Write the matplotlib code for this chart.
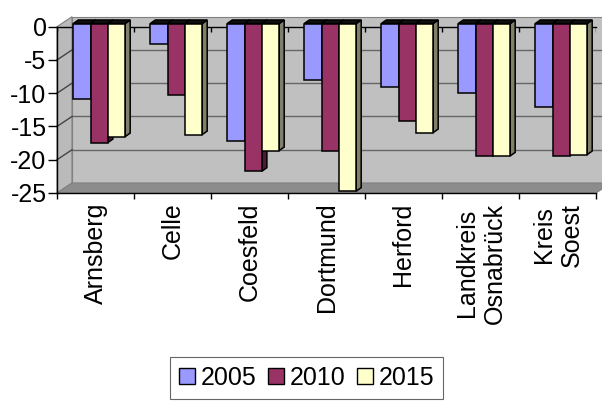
import matplotlib
matplotlib.use("Agg")
import matplotlib.pyplot as plt
from matplotlib.patches import Polygon, Patch

plt.rcParams["font.family"] = ["Liberation Sans", "DejaVu Sans"]
plt.rcParams["axes.unicode_minus"] = False

categories = ["Arnsberg", "Celle", "Coesfeld", "Dortmund", "Herford",
              "Landkreis\nOsnabrück", "Kreis\nSoest"]
years = ["2005", "2010", "2015"]
v2005 = [-11.3, -3.1, -17.6, -8.5, -9.5, -10.4, -12.5]
v2010 = [-17.9, -10.7, -22.2, -19.1, -14.6, -19.9, -19.9]
v2015 = [-17.0, -16.7, -19.1, -25.2, -16.4, -19.9, -19.7]
y_ticks = [0, -5, -10, -15, -20, -25]

face_colors = ["#9999ff", "#993366", "#ffffcc"]
side_colors = ["#4d4d80", "#4d1a33", "#80806a"]

W, H = 602, 401
fig = plt.figure(figsize=(W / 100, H / 100), dpi=100)

# front plane of the pseudo-3D box, in pixels
left_px, right_px, top_px, bot_px = 57, 596, 26.7, 193
ax = fig.add_axes([left_px / W, 1 - bot_px / H,
                   (right_px - left_px) / W, (bot_px - top_px) / H])
n = len(categories)
ax.set_xlim(0, n)
ax.set_ylim(-25, 0)
ax.set_facecolor("none")

# pixel -> data conversions
px_x = n / (right_px - left_px)
px_y = 25 / (bot_px - top_px)

# wall depth
wdx, wdy = 15 * px_x, 10 * px_y
# bar depth and bar placement
bdx, bdy = 5 * px_x, 3.5 * px_y
lift = 3.2 * px_y
grp_left = 16.3 * px_x
bw = 17.3 * px_x

wall_edge = "#808080"
back = Polygon([(wdx, -25 + wdy), (n + wdx, -25 + wdy), (n + wdx, wdy), (wdx, wdy)],
               closed=True, facecolor="#c0c0c0", edgecolor=wall_edge, lw=0.8,
               clip_on=False, zorder=0.5)
side = Polygon([(0, -25), (wdx, -25 + wdy), (wdx, wdy), (0, 0)],
               closed=True, facecolor="#bababa", edgecolor=wall_edge, lw=0.8,
               clip_on=False, zorder=0.6)
floor = Polygon([(0, -25), (n, -25), (n + wdx, -25 + wdy), (wdx, -25 + wdy)],
                closed=True, facecolor="#8c8c8c", edgecolor=wall_edge, lw=0.8,
                clip_on=False, zorder=0.6)
for p in (back, side, floor):
    ax.add_patch(p)

# gridlines on the back and left walls
for t in y_ticks[1:-1]:
    ax.plot([wdx, n + wdx], [t + wdy, t + wdy], color="#666666", lw=1.0,
            clip_on=False, zorder=0.8)
    ax.plot([0, wdx], [t, t + wdy], color="#444444", lw=1.0,
            clip_on=False, zorder=0.8)

# short marks hanging from the zero line at the category boundaries
ax.vlines(range(n + 1), 0, -5.5 * px_y, color="black", lw=1.0, zorder=2.5)

# bars: front face, right side face, top face
series = [v2005, v2010, v2015]
for s, vals in enumerate(series):
    xs = [i + grp_left + s * bw for i in range(n)]
    for x0, v in zip(xs, vals):
        x1 = x0 + bw
        ax.add_patch(Polygon([(x1, lift), (x1 + bdx, lift + bdy),
                              (x1 + bdx, v + lift + bdy), (x1, v + lift)],
                             closed=True, facecolor=side_colors[s],
                             edgecolor="black", lw=1.1, clip_on=False,
                             zorder=3 + 2 * s))
        ax.add_patch(Polygon([(x0, lift), (x1, lift), (x1 + bdx, lift + bdy),
                              (x0 + bdx, lift + bdy)],
                             closed=True, facecolor="#111111",
                             edgecolor="black", lw=1.1, clip_on=False,
                             zorder=3 + 2 * s))
    ax.bar(xs, vals, width=bw, bottom=lift, align="edge",
           color=face_colors[s], edgecolor="black", linewidth=1.1,
           clip_on=False, zorder=4 + 2 * s)

ax.spines["right"].set_visible(False)
for sp in ("left", "bottom", "top"):
    ax.spines[sp].set_color("black")
    ax.spines[sp].set_linewidth(1.0)
    ax.spines[sp].set_zorder(2.5)

ax.set_yticks(y_ticks)
ax.set_yticklabels([str(t) for t in y_ticks])
ax.tick_params(axis="y", direction="out", length=6.5, width=1, pad=1,
               labelsize=18, colors="black")

ax.set_xticks([i + 0.5 for i in range(n)])
ax.set_xticklabels(categories, rotation=90, va="top", ha="center",
                   multialignment="center")
ax.set_xticks(range(n + 1), minor=True)
ax.tick_params(axis="x", which="major", length=0, pad=7, labelsize=18)
ax.tick_params(axis="x", which="minor", direction="out", length=4, width=1,
               top=False, bottom=True)

handles = [Patch(facecolor=c, edgecolor="black", linewidth=1.0) for c in face_colors]
leg = fig.legend(handles, years, loc="center", ncol=3,
                 bbox_to_anchor=(306.7 / W, 1 - 378 / H),
                 fontsize=18, handlelength=0.64, handleheight=0.64,
                 handletextpad=0.24, columnspacing=0.44, borderpad=0.35,
                 borderaxespad=0, fancybox=False, frameon=True)
leg.get_frame().set_edgecolor("#404040")
leg.get_frame().set_linewidth(0.8)

fig.savefig("out.png", dpi=100, facecolor="white")
